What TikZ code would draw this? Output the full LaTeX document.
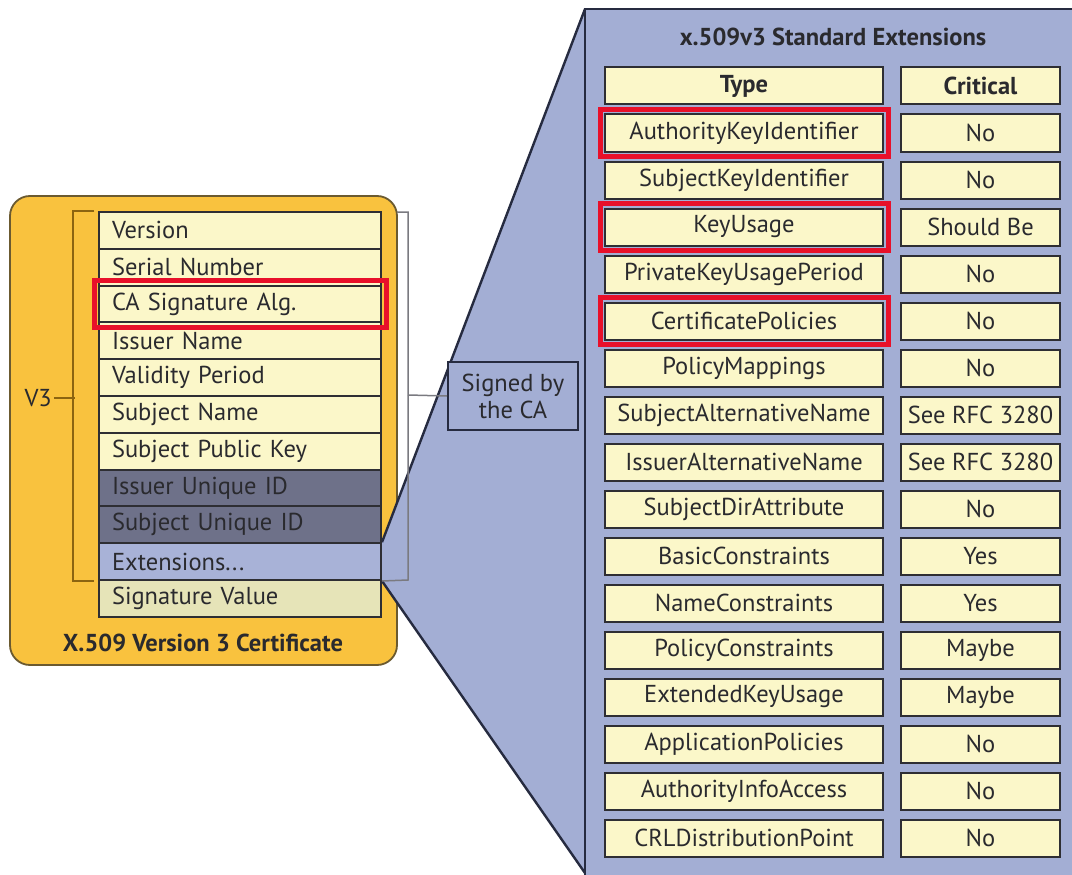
\documentclass[tikz,border=0pt]{standalone}
\usepackage{fontspec}
\setmainfont{PT Sans}
\usetikzlibrary{fit,calc}
\definecolor{certorange}{HTML}{F9C23E}
\definecolor{certedge}{HTML}{6B5A30}
\definecolor{cellyellow}{HTML}{FBF7C9}
\definecolor{panelblue}{HTML}{A3AED4}
\definecolor{darkrow}{HTML}{6E7189}
\definecolor{extrow}{HTML}{A8B2D7}
\definecolor{sigrow}{HTML}{E6E4B8}
\definecolor{celledge}{HTML}{2E2E33}
\definecolor{navyedge}{HTML}{262B40}
\definecolor{hilite}{HTML}{E8102A}
\definecolor{bracketgray}{HTML}{7A7A80}
\definecolor{bracketbrown}{HTML}{8C6410}
\definecolor{ink}{HTML}{2A2A2E}

\begin{document}
\begin{tikzpicture}[x=1pt,y=-1pt,
  txt/.style={font=\fontsize{24.5}{27}\selectfont, text=ink},
  boldtxt/.style={font=\bfseries\fontsize{24.5}{27}\selectfont, text=ink},
  field/.style={txt, draw=celledge, line width=2pt, fill=cellyellow,
    minimum height=36.8pt, inner ysep=0pt, inner xsep=13pt,
    text width=256pt, align=left},
  darkfield/.style={field, fill=darkrow},
  extfield/.style={field, fill=extrow},
  sigfield/.style={field, fill=sigrow},
  cell/.style={txt, draw=celledge, line width=2pt, fill=cellyellow,
    minimum height=37pt, inner sep=0pt},
  typecell/.style={cell, minimum width=278pt},
  critcell/.style={cell, minimum width=159pt},
  redmark/.style={draw=hilite, line width=5pt, inner sep=4pt},
]
\useasboundingbox (0,0) rectangle (1072,875);
\clip (0,0) rectangle (1072,875);
\fill[white] (0,0) rectangle (1072,875);

% certificate body
\draw[fill=certorange, draw=certedge, line width=1.8pt, rounded corners=20pt]
  (10,196) rectangle (397,665);

% certificate fields
\node[field]     (ver)  at (240,230.4) {Version};
\node[field]     (ser)  at (240,267.2) {Serial Number};
\node[field]     (alg)  at (240,304.0) {CA Signature Alg.};
\node[field]     (iss)  at (240,340.8) {Issuer Name};
\node[field]     (val)  at (240,377.6) {Validity Period};
\node[field]     (sub)  at (240,414.4) {Subject Name};
\node[field]     (pub)  at (240,451.2) {Subject Public Key};
\node[darkfield] (iuid) at (240,488.0) {Issuer Unique ID};
\node[darkfield] (suid) at (240,524.8) {Subject Unique ID};
\node[extfield]  (ext)  at (240,561.6) {Extensions...};
\node[sigfield]  (sig)  at (240,598.4) {Signature Value};

\node[boldtxt] (cert) at (203,643) {X.509 Version 3 Certificate};

% V3 bracket
\node[txt, anchor=east, inner sep=0pt] (vthree) at (52,398) {V3};
\draw[bracketbrown, line width=1.5pt]
  ($(ver.north west)+(-4,0)$) -- ++(-21,0) |- ($(ext.south west)+(-4,0)$);
\draw[bracketbrown, line width=1.5pt] (vthree.east) ++(2,0) -- (75,398);

% expansion wedge and panel
\coordinate (ptop) at (585,9);
\coordinate (pbot) at (585,873);
\fill[panelblue] (ext.north east) -- (ptop) -- (pbot) -- (ext.south east) -- cycle;
\draw[navyedge, line width=2.4pt] (ext.north east) -- (ptop);
\draw[navyedge, line width=2.4pt] (ext.south east) -- (pbot);
\draw[fill=panelblue, draw=navyedge, line width=2.4pt] (ptop) rectangle (1090,890);

% redraw fields that the wedge meets
\node[darkfield] at (suid) {Subject Unique ID};
\node[extfield]  at (ext)  {Extensions...};
\node[sigfield]  at (sig)  {Signature Value};

% signed-by bracket
\draw[bracketgray, line width=1.5pt] (397,212) -- (408,212) -- (408,580) -- (ext.south east);
\node[txt, draw=navyedge, line width=2pt, fill=panelblue, minimum width=130pt,
  minimum height=68pt, align=center, inner sep=0pt] (signed) at (513,396)
  {Signed by\\the CA};
\draw[bracketgray, line width=1.5pt] (408,395) -- (signed.west);

% highlight on the left
\node[redmark, fit=(alg)] {};

% extensions table
\node[boldtxt] (ttl) at (833,37) {x.509v3 Standard Extensions};
\node[typecell, boldtxt] (th) at (744,86) {Type};
\node[critcell, boldtxt] (ch) at (980.5,86) {Critical};

\foreach \n/\t/\c [count=\k] in {
  t1/AuthorityKeyIdentifier/No,
  t2/SubjectKeyIdentifier/No,
  t3/KeyUsage/Should Be,
  t4/PrivateKeyUsagePeriod/No,
  t5/CertificatePolicies/No,
  t6/PolicyMappings/No,
  t7/SubjectAlternativeName/See RFC 3280,
  t8/IssuerAlternativeName/See RFC 3280,
  t9/SubjectDirAttribute/No,
  t10/BasicConstraints/Yes,
  t11/NameConstraints/Yes,
  t12/PolicyConstraints/Maybe,
  t13/ExtendedKeyUsage/Maybe,
  t14/ApplicationPolicies/No,
  t15/AuthorityInfoAccess/No,
  t16/CRLDistributionPoint/No}{
  \node[typecell] (\n) at (744,86+47*\k) {\t};
  \node[critcell] (c\n) at (980.5,86+47*\k) {\c};
}

% highlights in the table
\node[redmark, fit=(t1)] {};
\node[redmark, fit=(t3)] {};
\node[redmark, fit=(t5)] {};
\end{tikzpicture}
\end{document}
